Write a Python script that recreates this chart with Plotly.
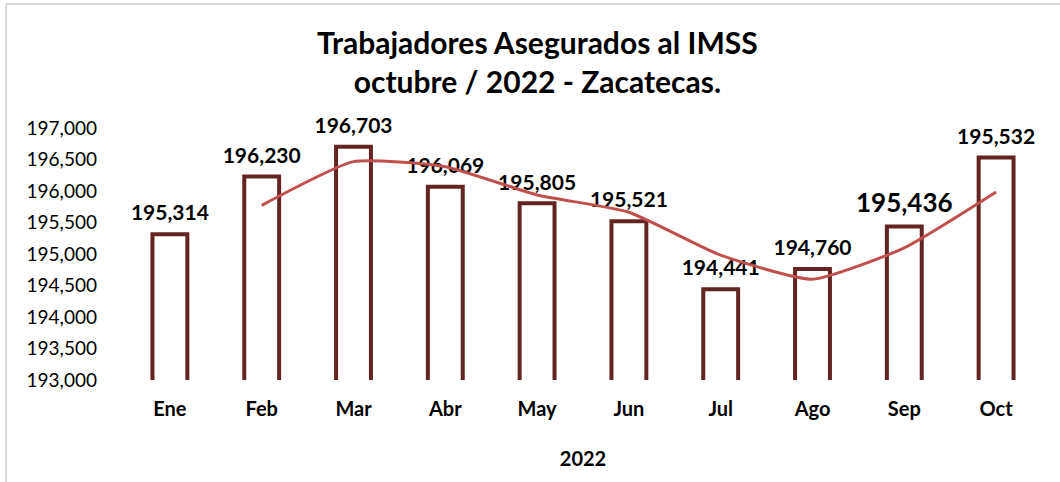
import plotly.graph_objects as go

months = ["Ene", "Feb", "Mar", "Abr", "May", "Jun", "Jul", "Ago", "Sep", "Oct"]
bar_values = [195314, 196230, 196703, 196069, 195805, 195521, 194441, 194760, 195436, 196532]
label_texts = ["195,314", "196,230", "196,703", "196,069", "195,805", "195,521",
               "194,441", "194,760", "195,436", "195,532"]
label_sizes = [21, 21, 21, 21, 21, 21, 21, 21, 26, 21]
trend_months = ["Feb", "Mar", "Abr", "May", "Jun", "Jul", "Ago", "Sep", "Oct"]
trend_values = [195772, 196466, 196386, 195937, 195663, 194981, 194600, 195098, 195984]
y_ticks = [193000, 193500, 194000, 194500, 195000, 195500, 196000, 196500, 197000]

FONT = "Lato"
fig = go.Figure()
fig.add_trace(go.Bar(
    x=months, y=bar_values, width=0.38,
    marker=dict(color="white", line=dict(color="#632523", width=4)),
    hoverinfo="x+y", showlegend=False,
))
fig.add_trace(go.Scatter(
    x=months, y=bar_values, mode="markers+text", text=label_texts,
    textposition="top center",
    textfont=dict(family=FONT, size=label_sizes, color="black", weight="bold"),
    marker=dict(size=12, color="rgba(0,0,0,0)"),
    hoverinfo="skip", showlegend=False, cliponaxis=False,
))
fig.add_trace(go.Scatter(
    x=trend_months, y=trend_values, mode="lines",
    line=dict(color="#C0504D", width=3, shape="spline", smoothing=0.5),
    showlegend=False, cliponaxis=False,
))

fig.update_layout(
    width=1060, height=482,
    margin=dict(l=124, r=18, t=128, b=102, autoexpand=False),
    paper_bgcolor="white", plot_bgcolor="white",
    font=dict(family=FONT, color="black"),
    title=dict(
        text="Trabajadores Asegurados al IMSS<br>octubre / 2022 - Zacatecas.",
        x=0.507, xref="container", xanchor="center",
        y=1 - 54 / 482, yref="container", yanchor="middle",
        font=dict(family=FONT, size=30, color="black", weight="bold"),
        automargin=False,
    ),
    xaxis=dict(
        range=[-0.5, 9.5], automargin=False,
        showgrid=False, showline=False, zeroline=False, ticks="",
        tickfont=dict(family=FONT, size=20, color="black", weight="bold"),
        ticklabelstandoff=15,
        title=dict(text="2022", standoff=32,
                   font=dict(family=FONT, size=20, color="black", weight="bold")),
    ),
    yaxis=dict(
        range=[193000, 197000], tickvals=y_ticks, tickformat=",d", automargin=False,
        showgrid=False, showline=False, zeroline=False, ticks="",
        tickfont=dict(family=FONT, size=19, color="black"),
        ticklabelstandoff=26,
    ),
    shapes=[
        dict(type="line", xref="paper", yref="paper",
             x0=(6 - 124) / 918, x1=(1060 - 124) / 918,
             y0=(380 - 4) / 252, y1=(380 - 4) / 252,
             line=dict(color="#d9d9d9", width=2)),
        dict(type="line", xref="paper", yref="paper",
             x0=(6 - 124) / 918, x1=(6 - 124) / 918,
             y0=(380 - 4) / 252, y1=(380 - 482) / 252,
             line=dict(color="#d9d9d9", width=2)),
    ],
)

fig.write_html("out.html", config={"displayModeBar": False},
               post_script="document.body.style.margin='0';")
